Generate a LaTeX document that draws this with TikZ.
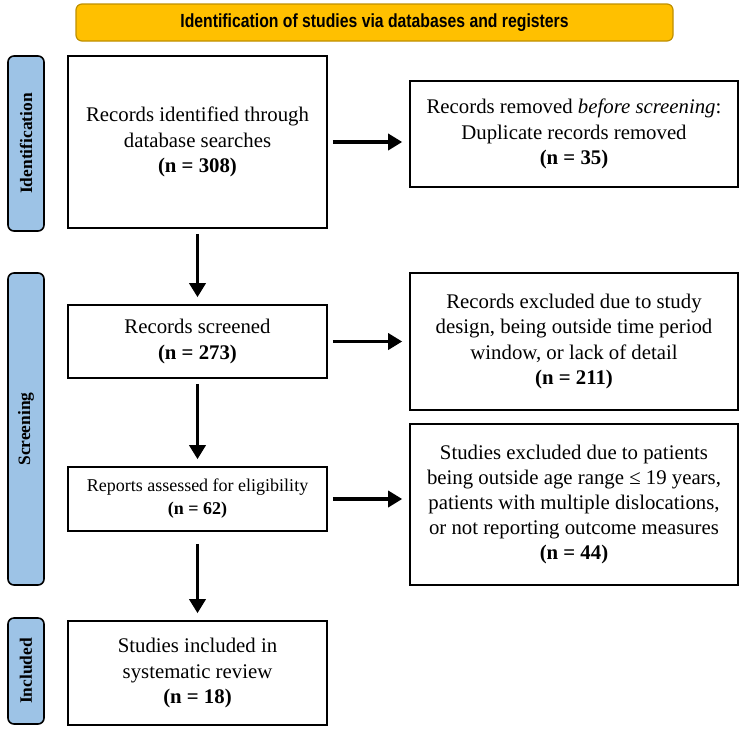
\documentclass[tikz,border=0pt]{standalone}
\usepackage{fontspec}
\setmainfont{Liberation Serif}
\newfontfamily\bannerfont[FakeStretch=0.83]{Liberation Sans}
\usetikzlibrary{arrows.meta}
\definecolor{bannerfill}{HTML}{FFC000}
\definecolor{bannerline}{HTML}{BF9000}
\definecolor{phasefill}{HTML}{9DC3E6}
\tikzset{
  box/.style={draw, line width=0.8pt, align=center, inner sep=0pt,
    font=\fontsize{10.4}{12.6}\selectfont},
  phase/.style={draw, line width=0.8pt, fill=phasefill, rounded corners=3pt,
    inner sep=0pt, minimum height=18pt, rotate=90,
    font=\fontsize{8.7}{10}\selectfont\bfseries},
  flow/.style={line width=1.7pt, -{Triangle[width=8pt,length=7pt]},
    shorten <=2.5pt, shorten >=3.5pt}
}

\begin{document}
\begin{tikzpicture}[x=0.5pt,y=-0.5pt]
\useasboundingbox (0,0) rectangle (750,730);
\node[draw=bannerline, fill=bannerfill, line width=0.6pt, rounded corners=3pt,
  minimum width=298.5pt, minimum height=18.5pt, inner sep=0pt,
  font=\bannerfont\fontsize{9.5}{11}\selectfont\bfseries] (Banner) at (374.5,22.5)
  {Identification of studies via databases and registers};
\node[phase, minimum width=87.5pt] (Ident) at (26,143.5) {Identification};
\node[phase, minimum width=156pt] (Screen) at (26,429) {Screening};
\node[phase, minimum width=53pt] (Incl) at (26,671) {Included};
\node[box, minimum width=129.5pt, minimum height=86pt] (B1) at (197.5,142)
  {Records identified through\\ database searches\\ \textbf{(n = 308)}};
\node[box, minimum width=129.5pt, minimum height=36.5pt] (B2) at (197.5,341.5)
  {Records screened\\ \textbf{(n = 273)}};
\node[box, minimum width=129.5pt, minimum height=32pt,
  font=\fontsize{9}{11.5}\selectfont] (B3) at (197.5,499)
  {Reports assessed for eligibility\\ \textbf{(n = 62)}};
\node[box, minimum width=129.5pt, minimum height=52pt] (B4) at (197.5,673)
  {Studies included in\\ systematic review\\ \textbf{(n = 18)}};
\node[box, minimum width=164pt, minimum height=53pt] (R1) at (574,134)
  {Records removed \textit{before screening}:\\ Duplicate records removed\\ \textbf{(n = 35)}};
\node[box, minimum width=164pt, minimum height=68.5pt] (R2) at (574,341.5)
  {Records excluded due to study\\ design, being outside time period\\ window, or lack of detail\\ \textbf{(n = 211)}};
\node[box, minimum width=164pt, minimum height=80.5pt] (R3) at (574,504.5)
  {Studies excluded due to patients\\ being outside age range ≤ 19 years,\\ patients with multiple dislocations,\\ or not reporting outcome measures\\ \textbf{(n = 44)}};
\draw[flow] (B1.south) -- (B2.north);
\draw[flow] (B2.south) -- (B3.north);
\draw[flow, shorten <=6pt] (B3.south) -- (B4.north);
\draw[flow] (B1.east) -- (B1.east -| R1.west);
\draw[flow] (B2.east) -- (B2.east -| R2.west);
\draw[flow] (B3.east) -- (B3.east -| R3.west);
\end{tikzpicture}
\end{document}
